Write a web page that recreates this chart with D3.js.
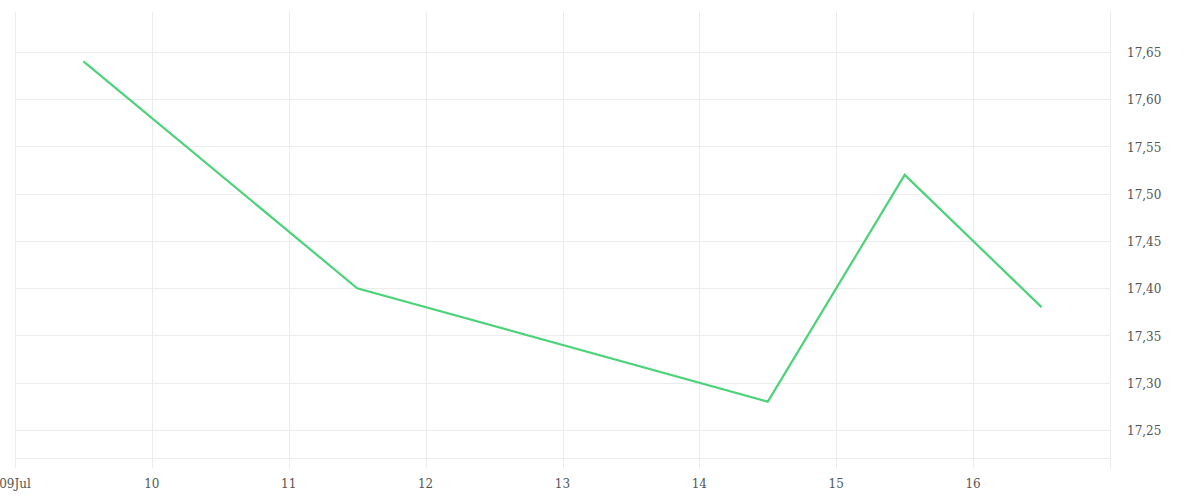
<!DOCTYPE html>
<html><head><meta charset="utf-8">
<script src="https://cdn.jsdelivr.net/npm/d3@7"></script>
<style>body{margin:0;background:#fff}svg{display:block}text{font-family:'DejaVu Serif',serif;font-size:12px;fill:#555}</style>
</head><body><svg id="c" width="1200" height="500"></svg>
<script>
const dates = ["2024-07-09T12:00","2024-07-11T12:00","2024-07-14T12:00","2024-07-15T12:00","2024-07-16T12:00"];
const values = [17.64, 17.40, 17.28, 17.52, 17.38];
const yTicks = [17.25, 17.30, 17.35, 17.40, 17.45, 17.50, 17.55, 17.60, 17.65];
const xTickDates = ["2024-07-09","2024-07-10","2024-07-11","2024-07-12","2024-07-13","2024-07-14","2024-07-15","2024-07-16"];
const xTickLabels = ["09Jul","10","11","12","13","14","15","16"];

const parse = d3.timeParse("%Y-%m-%dT%H:%M"), parseD = d3.timeParse("%Y-%m-%d");
const svg = d3.select("#c");
const pL = 15, pR = 1110, pT = 12, pB = 468;
const x = d3.scaleTime().domain([parseD("2024-07-09"), parseD("2024-07-17")]).range([pL, pR]);
const y = d3.scaleLinear().domain([17.25, 17.65]).range([430, 52]);

const g = svg.append("g");
g.selectAll("line.vx").data(xTickDates).join("line")
 .attr("x1", d => Math.round(x(parseD(d))) + 0.5).attr("x2", d => Math.round(x(parseD(d))) + 0.5)
 .attr("y1", pT).attr("y2", pB).attr("stroke", "#ececec");
g.append("line").attr("x1", pR + 0.5).attr("x2", pR + 0.5).attr("y1", pT).attr("y2", pB).attr("stroke", "#ececec");
g.selectAll("line.hy").data(yTicks).join("line")
 .attr("x1", pL).attr("x2", pR).attr("y1", d => Math.round(y(d)) + 0.5).attr("y2", d => Math.round(y(d)) + 0.5)
 .attr("stroke", "#ececec");
g.append("line").attr("x1", pL).attr("x2", pR).attr("y1", 458.5).attr("y2", 458.5).attr("stroke", "#ececec");

svg.selectAll("text.xl").data(xTickDates).join("text")
 .attr("x", d => x(parseD(d))).attr("y", 488).attr("text-anchor", "middle")
 .text((d, i) => xTickLabels[i]);
svg.selectAll("text.yl").data(yTicks).join("text")
 .attr("x", 1127).attr("y", d => y(d) + 5)
 .text(d => d3.format(".2f")(d).replace(".", ","));

const pts = dates.map((d, i) => [parse(d), values[i]]);
svg.append("path").datum(pts)
 .attr("d", d3.line().x(d => x(d[0])).y(d => y(d[1])))
 .attr("fill", "none").attr("stroke", "#4cd37a").attr("stroke-width", 2.2);
</script></body></html>
